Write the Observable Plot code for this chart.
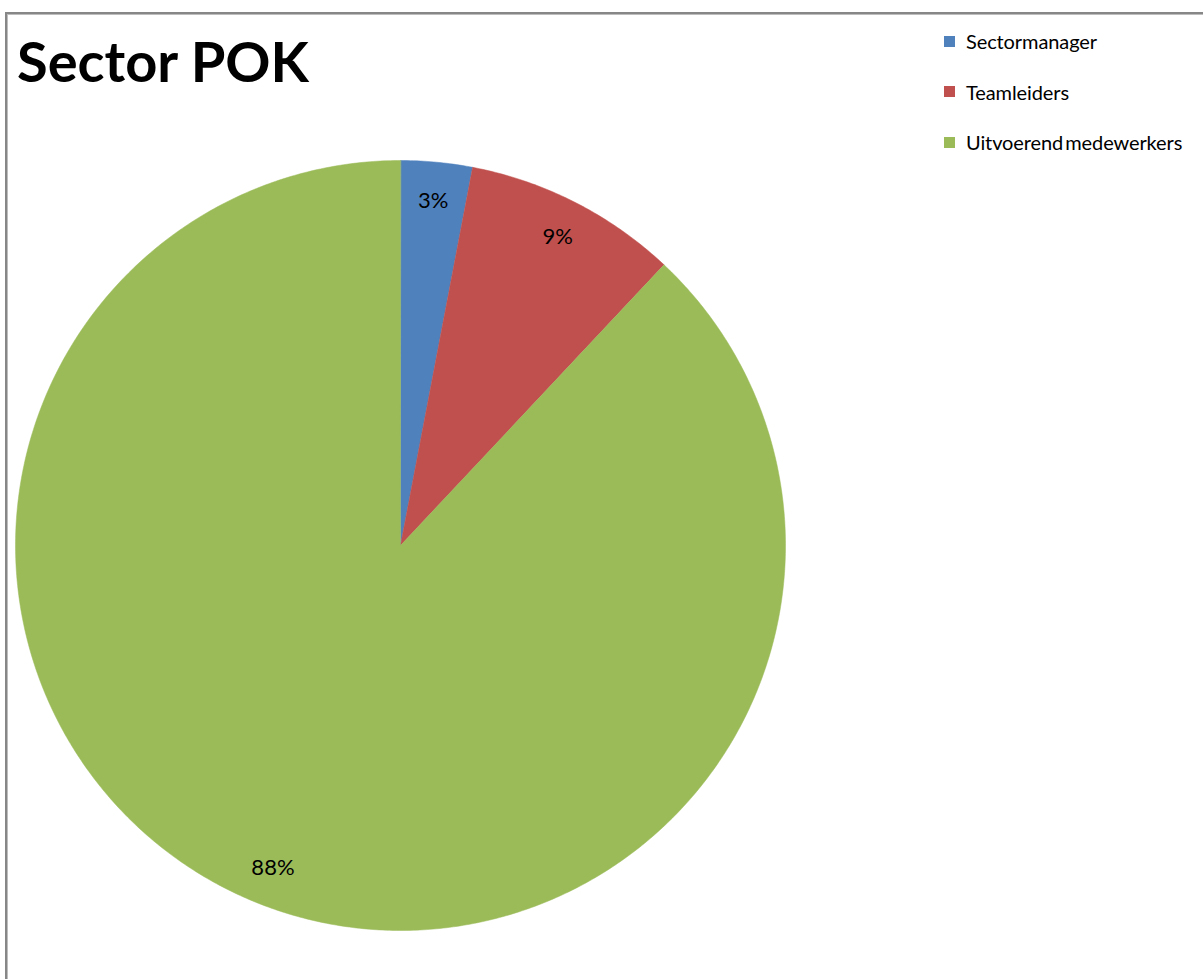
<!DOCTYPE html>
<html><head><meta charset="utf-8">
<script src="https://cdn.jsdelivr.net/npm/d3@7"></script>
<script src="https://cdn.jsdelivr.net/npm/@observablehq/plot@0.6"></script>
<style>
html,body{margin:0;padding:0;background:#fff;width:1203px;height:979px;overflow:hidden;font-family:Lato,"Open Sans",sans-serif;color:#000}
#frame{position:absolute;left:5px;top:12px;width:1300px;height:1100px;border-left:2px solid #878787;border-top:2px solid #878787;box-shadow:inset 1px 1px 0 #bdbdbd}
#title{position:absolute;left:17px;top:33px;margin:0;font-weight:700;font-size:56px;line-height:1;white-space:nowrap}
.lg{position:absolute;left:944px;height:20px;display:flex;align-items:center;font-size:20px;letter-spacing:-0.1px;word-spacing:-3px;white-space:nowrap}
.lg span.sw{display:inline-block;width:11px;height:11px;margin-right:11px}
#chart{position:absolute;left:15px;top:160px}
#chart svg{overflow:visible}
</style>
</head><body>
<div id="frame"></div>
<h1 id="title">Sector POK</h1>
<div id="legend"></div>
<div id="chart"></div>
<script>
const categories = ["Sectormanager", "Teamleiders", "Uitvoerend medewerkers"];
const values = [3, 9, 88];
const labels = ["3%", "9%", "88%"];
const colors = ["#4F81BD", "#C0504D", "#9BBB59"];

const arcs = d3.pie().sort(null).value(d => d)(values);

// polygon outline for each slice in unit-circle coordinates
const pts = [];
arcs.forEach((a, i) => {
  pts.push({key: categories[i], x: 0, y: 0});
  const n = Math.max(2, Math.ceil((a.endAngle - a.startAngle) / (Math.PI / 360)));
  for (let k = 0; k <= n; k++) {
    const t = a.startAngle + (a.endAngle - a.startAngle) * k / n;
    pts.push({key: categories[i], x: Math.sin(t), y: Math.cos(t)});
  }
});
const lab = arcs.map((a, i) => {
  const m = (a.startAngle + a.endAngle) / 2;
  return {label: labels[i], x: 0.9 * Math.sin(m), y: 0.9 * Math.cos(m)};
});

const chart = Plot.plot({
  width: 770, height: 770,
  margin: 0,
  x: {domain: [-1, 1], axis: null},
  y: {domain: [-1, 1], axis: null},
  color: {domain: categories, range: colors},
  marks: [
    Plot.line(pts, {x: "x", y: "y", z: "key", fill: "key", stroke: "key", strokeWidth: 0.5, curve: "linear-closed"}),
    Plot.text(lab, {x: "x", y: "y", text: "label", fontSize: 22, fontFamily: "Lato", fill: "#000"})
  ]
});
document.getElementById("chart").appendChild(chart);

const leg = document.getElementById("legend");
categories.forEach((c, i) => {
  const row = document.createElement("div");
  row.className = "lg";
  row.style.top = (31 + i * 50.5) + "px";
  row.innerHTML = `<span class="sw" style="background:${colors[i]}"></span>${c}`;
  leg.appendChild(row);
});
</script>
</body></html>
